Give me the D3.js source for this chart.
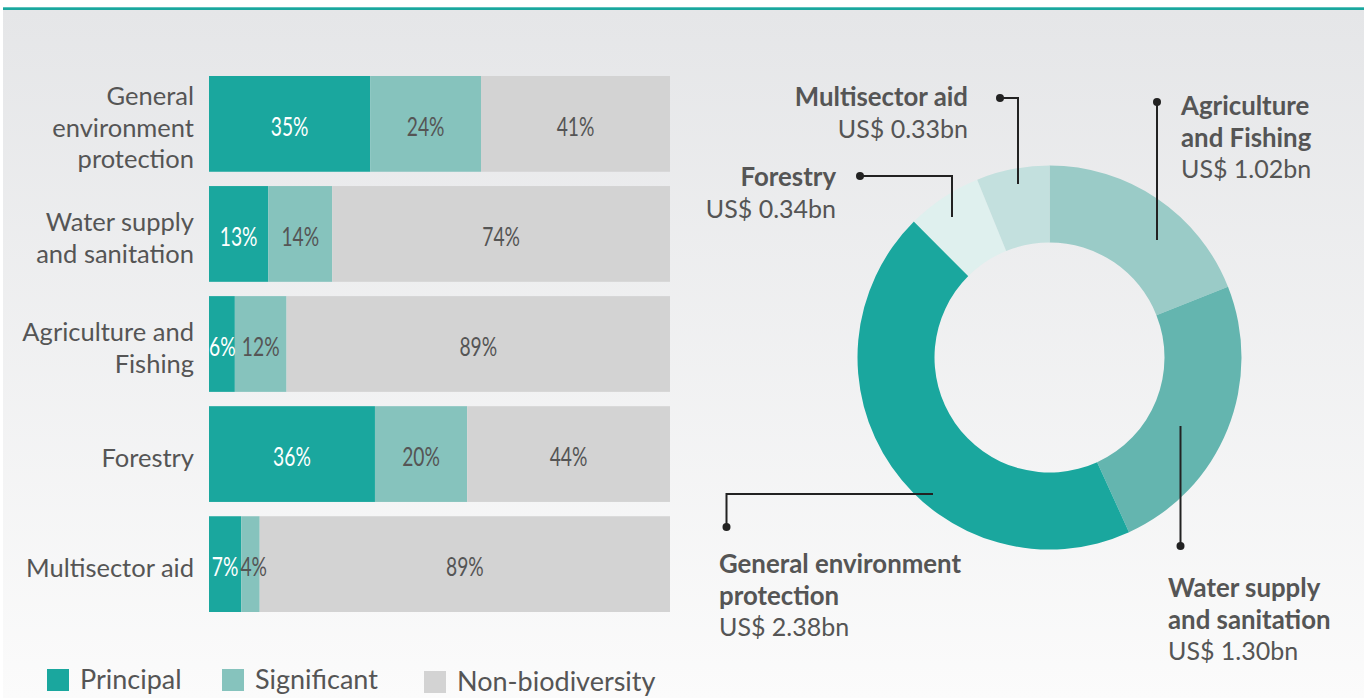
<!DOCTYPE html>
<html>
<head>
<meta charset="utf-8">
<script src="https://cdn.jsdelivr.net/npm/d3@7"></script>
<style>
  html, body { margin: 0; padding: 0; background: #ffffff; }
  svg { display: block; }
</style>
</head>
<body>
<svg id="chart" width="1364" height="698"></svg>
<script>
// ---------- DATA ----------
const categories = ["General environment protection", "Water supply and sanitation", "Agriculture and Fishing", "Forestry", "Multisector aid"];
const categoryLines = [["General", "environment", "protection"], ["Water supply", "and sanitation"], ["Agriculture and", "Fishing"], ["Forestry"], ["Multisector aid"]];
const seriesNames = ["Principal", "Significant", "Non-biodiversity"];
const principal = [35, 13, 6, 36, 7];
const significant = [24, 14, 12, 20, 4];
const nonBiodiversity = [41, 74, 89, 44, 89];

const donutSectors = ["Agriculture and Fishing", "Water supply and sanitation", "General environment protection", "Forestry", "Multisector aid"];
const donutValues = [1.02, 1.30, 2.38, 0.34, 0.33];
const donutTitleLines = [["Agriculture", "and Fishing"], ["Water supply", "and sanitation"], ["General environment", "protection"], ["Forestry"], ["Multisector aid"]];
const donutValueLabels = ["US$ 1.02bn", "US$ 1.30bn", "US$ 2.38bn", "US$ 0.34bn", "US$ 0.33bn"];

// ---------- STYLE / LAYOUT ----------
const W = 1364, H = 698;
const barColors = ["#1aa79e", "#86c3bd", "#d3d3d3"];
const barLabelColors = ["#ffffff", "#555555", "#555555"];
const donutColors = ["#9acbc7", "#64b5af", "#1aa79e", "#dff0ee", "#c3e0de"];
const textColor = "#555555";
const font = "Lato, 'Open Sans', sans-serif";
const pctScaleX = 0.74;

const svg = d3.select("#chart");

// background
const defs = svg.append("defs");
const grad = defs.append("linearGradient").attr("id", "bg").attr("x1", 0).attr("y1", 0).attr("x2", 0).attr("y2", 1);
grad.append("stop").attr("offset", "0%").attr("stop-color", "#e5e6e8");
grad.append("stop").attr("offset", "100%").attr("stop-color", "#fbfbfb");
svg.append("rect").attr("x", 3).attr("y", 10).attr("width", W - 3).attr("height", H - 10).attr("fill", "url(#bg)");
svg.append("rect").attr("x", 3).attr("y", 7).attr("width", W - 3).attr("height", 3).attr("fill", "#1aa79e");
svg.append("rect").attr("x", 3).attr("y", 7).attr("width", W - 3).attr("height", 1).attr("fill", "#5cc2bb");

// ---------- BAR CHART ----------
const rows = categories.map((c, i) => ({ category: c, Principal: principal[i], Significant: significant[i], "Non-biodiversity": nonBiodiversity[i] }));
const stack = d3.stack().keys(seriesNames).offset(d3.stackOffsetExpand);
const stacked = stack(rows);

const x = d3.scaleLinear().domain([0, 1]).range([209, 670]);
const y = d3.scaleBand().domain(categories).range([76, 612]).paddingInner(0.13).paddingOuter(0);

const barG = svg.append("g");
stacked.forEach((layer, si) => {
  barG.append("g").selectAll("rect").data(layer).join("rect")
    .attr("x", d => x(d[0]))
    .attr("y", d => y(d.data.category))
    .attr("width", d => x(d[1]) - x(d[0]))
    .attr("height", y.bandwidth())
    .attr("fill", barColors[si]);
});

// percentage labels, pushed right when they would collide
const labelG = svg.append("g");
categories.forEach((c, ci) => {
  let prevRight = x(0) - 2;
  stacked.forEach((layer, si) => {
    const d = layer[ci];
    const ty = y(c) + y.bandwidth() / 2 + 2;
    const g = labelG.append("g");
    const t = g.append("text")
      .attr("text-anchor", "middle")
      .attr("dominant-baseline", "central")
      .attr("font-family", font)
      .attr("font-size", 26)
      .attr("fill", barLabelColors[si])
      .text(d.data[layer.key] + "%");
    const w = t.node().getComputedTextLength() * pctScaleX;
    let cx = (x(d[0]) + x(d[1])) / 2;
    cx = Math.max(cx, prevRight + 2 + w / 2);
    prevRight = cx + w / 2;
    g.attr("transform", `translate(${cx},${ty}) scale(${pctScaleX},1)`);
  });
});

// category labels
const lineH = 31.5;
const catG = svg.append("g");
categories.forEach((c, i) => {
  const lines = categoryLines[i];
  const cy = y(c) + y.bandwidth() / 2 + 3;
  const t = catG.append("text")
    .attr("text-anchor", "end")
    .attr("font-family", font)
    .attr("font-size", 25.5)
    .attr("fill", textColor);
  lines.forEach((ln, j) => {
    t.append("tspan")
      .attr("x", 194)
      .attr("y", cy + (j - (lines.length - 1) / 2) * lineH)
      .attr("dominant-baseline", "central")
      .text(ln);
  });
});

// legend
const legendX = [47, 222, 424];
const legendG = svg.append("g");
seriesNames.forEach((s, i) => {
  legendG.append("rect").attr("x", legendX[i]).attr("y", 669 + (i === 2 ? 2 : 0)).attr("width", 22).attr("height", 22).attr("fill", barColors[i]);
  legendG.append("text").attr("x", legendX[i] + 33).attr("y", 689 + (i === 2 ? 2 : 0))
    .attr("font-family", font).attr("font-size", 27).attr("fill", textColor).text(s);
});

// ---------- DONUT ----------
const cx = 1049.5, cy = 357.5, rOuter = 192, rInner = 115;
const pie = d3.pie().sort(null).value(d => d)(donutValues);
const arc = d3.arc().innerRadius(rInner).outerRadius(rOuter);
const donutG = svg.append("g").attr("transform", `translate(${cx},${cy})`);
donutG.selectAll("path").data(pie).join("path").attr("d", arc).attr("fill", (d, i) => donutColors[i]);

// annotations: leader lines (dot -> elbow -> slice), label anchor
const annotations = [
  { pts: [[1157, 102], [1157, 240]], tx: 1181, ty: 105, anchor: "start" },
  { pts: [[1180.5, 546], [1180.5, 426]], tx: 1168, ty: 587, anchor: "start" },
  { pts: [[726.5, 527], [726.5, 494], [933, 494]], tx: 719, ty: 563, anchor: "start" },
  { pts: [[860, 176], [952, 176], [952, 217]], tx: 836, ty: 176, anchor: "end" },
  { pts: [[1000, 98], [1018, 98], [1018, 184]], tx: 968, ty: 96, anchor: "end" }
];
const annG = svg.append("g");
annotations.forEach((a, i) => {
  annG.append("path").attr("d", d3.line()(a.pts)).attr("fill", "none").attr("stroke", "#222").attr("stroke-width", 2);
  annG.append("circle").attr("cx", a.pts[0][0]).attr("cy", a.pts[0][1]).attr("r", 4).attr("fill", "#222");
  const t = annG.append("text").attr("text-anchor", a.anchor).attr("font-family", font).attr("fill", textColor);
  const lines = donutTitleLines[i];
  lines.forEach((ln, j) => {
    t.append("tspan").attr("x", a.tx).attr("y", a.ty + j * 31.5).attr("dominant-baseline", "central")
      .attr("font-weight", 700).attr("font-size", 25.8).text(ln);
  });
  t.append("tspan").attr("x", a.tx).attr("y", a.ty + lines.length * 31.5).attr("dominant-baseline", "central")
    .attr("font-size", 25).text(donutValueLabels[i]);
});
</script>
</body>
</html>
